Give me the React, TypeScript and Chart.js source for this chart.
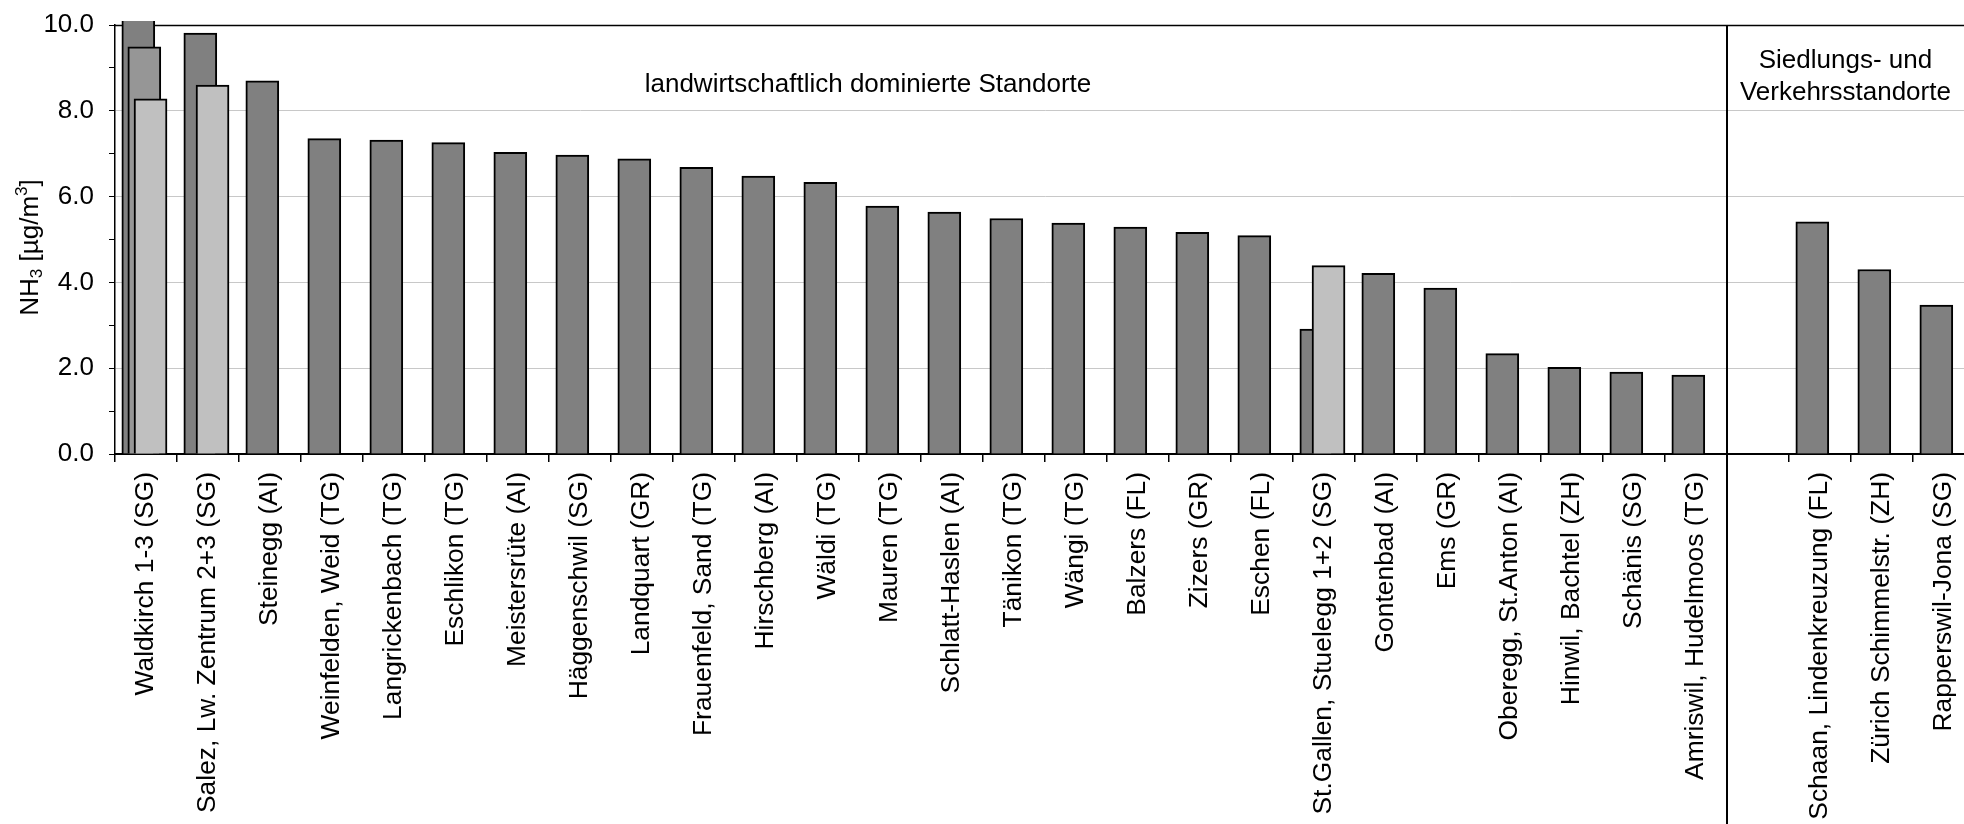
import React, { useEffect, useRef } from 'react';
import { Chart, registerables } from 'chart.js';

Chart.register(...registerables);

// ---------- data ----------
const CATEGORIES: string[] = [
  'Waldkirch 1-3 (SG)',
  'Salez, Lw. Zentrum 2+3 (SG)',
  'Steinegg (AI)',
  'Weinfelden, Weid (TG)',
  'Langrickenbach (TG)',
  'Eschlikon (TG)',
  'Meistersrüte (AI)',
  'Häggenschwil (SG)',
  'Landquart (GR)',
  'Frauenfeld, Sand (TG)',
  'Hirschberg (AI)',
  'Wäldi (TG)',
  'Mauren (TG)',
  'Schlatt-Haslen (AI)',
  'Tänikon (TG)',
  'Wängi (TG)',
  'Balzers (FL)',
  'Zizers (GR)',
  'Eschen (FL)',
  'St.Gallen, Stuelegg 1+2 (SG)',
  'Gontenbad (AI)',
  'Ems (GR)',
  'Oberegg, St.Anton (AI)',
  'Hinwil, Bachtel (ZH)',
  'Schänis (SG)',
  'Amriswil, Hudelmoos (TG)',
  '',
  'Schaan, Lindenkreuzung (FL)',
  'Zürich Schimmelstr. (ZH)',
  'Rapperswil-Jona (SG)',
];

// site 1 (dark)
const VALUES_SITE1: (number | null)[] = [
  10.6, 9.81, 8.70, 7.35, 7.32, 7.26, 7.03, 6.97, 6.88, 6.68,
  6.48, 6.33, 5.78, 5.64, 5.49, 5.38, 5.29, 5.17, 5.09, 2.91,
  4.21, 3.87, 2.34, 2.02, 1.91, 1.84, null, 5.41, 4.30, 3.47,
];
// site 2 (medium)
const VALUES_SITE2: (number | null)[] = [
  9.49, null, null, null, null, null, null, null, null, null,
  null, null, null, null, null, null, null, null, null, null,
  null, null, null, null, null, null, null, null, null, null,
];
// site 3 (light)
const VALUES_SITE3: (number | null)[] = [
  8.28, 8.60, null, null, null, null, null, null, null, null,
  null, null, null, null, null, null, null, null, null, 4.39,
  null, null, null, null, null, null, null, null, null, null,
];

const Y_TICK_LABELS = [0, 2, 4, 6, 8, 10];
const GROUP_TITLES = ['landwirtschaftlich dominierte Standorte', 'Siedlungs- und\nVerkehrsstandorte'];
const GROUP_SPLIT_INDEX = 26; // first category of the second group

// ---------- styles ----------
const FONT = '"Liberation Sans", Arial, Helvetica, sans-serif';
const FONT_SIZE = 26;
const X_FONT_SIZE = 26.4;
const SERIES_STYLE = [
  { values: VALUES_SITE1, color: '#808080', shift: -0.124, order: 2 },
  { values: VALUES_SITE2, color: '#969696', shift: -0.027, order: 1 },
  { values: VALUES_SITE3, color: '#c0c0c0', shift: 0.073, order: 0 },
];
const GROUP_TITLE_POS = [
  { x: 11.645, baselines: [67] },
  { x: 27.41, baselines: [43, 75] },
];

const overlayPlugin = {
  id: 'overlay',
  beforeDatasetsDraw(chart: any) {
    const { ctx, chartArea: a } = chart;
    ctx.save();
    ctx.strokeStyle = '#000';
    ctx.lineWidth = 1.5;
    ctx.beginPath();
    ctx.moveTo(a.left, a.top + 0.5);
    ctx.lineTo(a.right, a.top + 0.5);
    ctx.stroke();
    ctx.restore();
  },
  afterDraw(chart: any) {
    const { ctx, chartArea: a, height } = chart;
    const xb = chart.scales.xb;
    ctx.save();
    // divider between groups
    const dx = Math.round(xb.getPixelForValue(GROUP_SPLIT_INDEX - 0.5));
    ctx.strokeStyle = '#000';
    ctx.lineWidth = 2;
    ctx.beginPath();
    ctx.moveTo(dx, a.top);
    ctx.lineTo(dx, height);
    ctx.stroke();

    // group titles
    ctx.fillStyle = '#000';
    ctx.font = `${FONT_SIZE}px ${FONT}`;
    ctx.textAlign = 'center';
    ctx.textBaseline = 'alphabetic';
    GROUP_TITLES.forEach((t, i) => {
      const pos = GROUP_TITLE_POS[i];
      const x = xb.getPixelForValue(pos.x);
      t.split('\n').forEach((line, j) => {
        ctx.fillText(line, x, a.top + pos.baselines[j]);
      });
    });

    // y axis title: NH3 [µg/m3]
    const segs = [
      { t: 'NH', s: 1, dy: 0 },
      { t: '3', s: 0.66, dy: 4 },
      { t: ' [µg/m', s: 1, dy: 0 },
      { t: '3', s: 0.66, dy: -11 },
      { t: ']', s: 1, dy: 0 },
    ];
    let total = 0;
    segs.forEach((sg) => {
      ctx.font = `${FONT_SIZE * sg.s}px ${FONT}`;
      total += ctx.measureText(sg.t).width;
    });
    const cy = (a.top + a.bottom) / 2 + 8;
    ctx.translate(38, cy);
    ctx.rotate(-Math.PI / 2);
    ctx.textAlign = 'left';
    let x = -total / 2;
    segs.forEach((sg) => {
      ctx.font = `${FONT_SIZE * sg.s}px ${FONT}`;
      ctx.fillText(sg.t, x, sg.dy);
      x += ctx.measureText(sg.t).width;
    });
    ctx.restore();
  },
};

export default function App() {
  const ref = useRef<HTMLCanvasElement>(null);
  useEffect(() => {
    const canvas = ref.current;
    if (!canvas) return;
    const datasets = SERIES_STYLE.map((s) => ({
      data: s.values
        .map((v, i) => (v == null ? null : { x: i + s.shift, y: v }))
        .filter((p) => p !== null),
      xAxisID: 'xb',
      yAxisID: 'y',
      backgroundColor: s.color,
      borderColor: '#000',
      borderWidth: 2,
      barThickness: 33,
      grouped: false,
      order: s.order,
      clip: { left: 0, top: 4, right: 0, bottom: 0 },
    }));
    const chart = new Chart(canvas, {
      type: 'bar',
      data: { labels: CATEGORIES, datasets: datasets as any },
      plugins: [overlayPlugin],
      options: {
        responsive: false,
        animation: false,
        layout: { padding: { top: 25, right: 5, bottom: 0, left: 0 } },
        plugins: { legend: { display: false }, tooltip: { enabled: false } },
        scales: {
          x: {
            type: 'category',
            offset: true,
            grid: { offset: true, drawOnChartArea: false, color: '#000', tickColor: '#000', tickLength: 8, lineWidth: 1.5 },
            border: { display: true, color: '#000', width: 2 },
            ticks: {
              autoSkip: false,
              maxRotation: 90,
              minRotation: 90,
              padding: 10,
              color: '#000',
              font: { family: FONT, size: X_FONT_SIZE },
            },
            afterFit: (s: any) => {
              s.height = 370;
              s.paddingLeft = 0;
              s.paddingRight = 0;
            },
          },
          xb: {
            type: 'linear',
            display: false,
            offset: false,
            min: -0.5,
            max: CATEGORIES.length - 0.5,
          },
          y: {
            type: 'linear',
            min: 0,
            max: 10,
            ticks: {
              stepSize: 0.5,
              padding: 15,
              color: '#000',
              font: { family: FONT, size: FONT_SIZE },
              callback: (v: any) => (Y_TICK_LABELS.includes(Number(v)) ? Number(v).toFixed(1) : ''),
            },
            grid: {
              color: (c: any) => {
                const v = c.tick ? c.tick.value : 0;
                return v > 0 && v < 10 && Y_TICK_LABELS.includes(v) ? '#c8c8c8' : 'rgba(0,0,0,0)';
              },
              tickColor: '#000',
              tickLength: 6,
              lineWidth: 1,
            },
            border: { display: true, color: '#000', width: 1.5 },
            afterFit: (s: any) => {
              s.width = 115;
              s.paddingTop = 0;
              s.paddingBottom = 0;
            },
          },
        },
      } as any,
    });
    return () => chart.destroy();
  }, []);
  return (
    <div style={{ position: 'fixed', left: 0, top: 0, width: 1964, height: 824, overflow: 'hidden', background: '#fff' }}>
      <canvas ref={ref} width={1980} height={824} style={{ display: 'block', width: 1980, height: 824 }} />
    </div>
  );
}
